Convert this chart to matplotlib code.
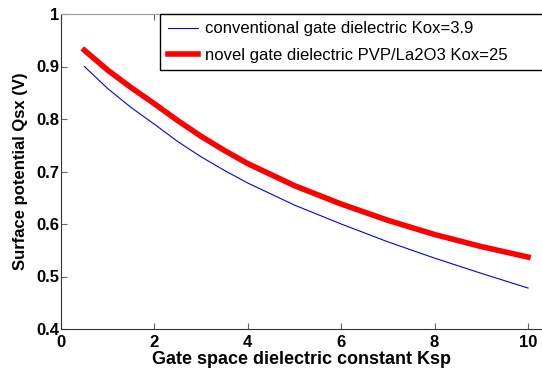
import numpy as np
import matplotlib.pyplot as plt

# Ksp values and surface potential
ksp = [0.5, 1, 1.5, 2, 2.5, 3, 3.5, 4, 5, 6, 7, 8, 9, 10]
qsx_conv = [0.900, 0.858, 0.822, 0.790, 0.757, 0.728, 0.702, 0.678,
            0.636, 0.600, 0.566, 0.535, 0.506, 0.478]
qsx_novel = [0.931, 0.893, 0.860, 0.829, 0.797, 0.767, 0.740, 0.715,
             0.673, 0.638, 0.607, 0.580, 0.557, 0.537]

label_conv = "conventional gate dielectric Kox=3.9"
label_novel = "novel gate dielectric PVP/La2O3 Kox=25"

plt.rcParams['font.family'] = ['Liberation Sans', 'DejaVu Sans']

fig = plt.figure(figsize=(5.42, 3.78), dpi=100)
ax = fig.add_axes([61/542, 49/378, 481/542, 315/378])

ax.plot(ksp, qsx_conv, color='#0000ff', lw=0.8, label=label_conv)
ax.plot(ksp, qsx_novel, color='#ff0000', lw=4, label=label_novel)

ax.set_xlim(0, 10.3)
ax.set_ylim(0.4, 1.0)
ax.set_xticks([0, 2, 4, 6, 8, 10])
ax.set_yticks([0.4, 0.5, 0.6, 0.7, 0.8, 0.9, 1.0])
ax.set_yticklabels(['0.4', '0.5', '0.6', '0.7', '0.8', '0.9', '1'])

ax.spines['right'].set_visible(False)
ax.spines['top'].set_color('#999999')
for s in ['left', 'bottom']:
    ax.spines[s].set_color('#333333')
ax.tick_params(direction='in', length=4, top=True, width=0.8, color='#666666',
               labelsize=12)
ax.tick_params(axis='x', pad=4)
ax.tick_params(axis='y', pad=1)
for t in ax.get_xticklabels() + ax.get_yticklabels():
    t.set_fontweight('bold')

ax.set_xlabel("Gate space dielectric constant Ksp", fontsize=13, fontweight='bold', labelpad=1)
ax.set_ylabel("Surface potential Qsx (V)", fontsize=12, fontweight='bold', labelpad=6)

# legend frame runs off the right edge like in the original
leg = ax.legend(loc='upper left', bbox_to_anchor=(0.206, 0, 0.81, 1.0), mode='expand',
                fontsize=12, fancybox=False, framealpha=1, edgecolor='black',
                labelspacing=0.68, handlelength=1.85, handletextpad=0.4,
                borderpad=0.45, borderaxespad=0)
leg.get_frame().set_linewidth(1)

plt.savefig('out.png', dpi=100)
